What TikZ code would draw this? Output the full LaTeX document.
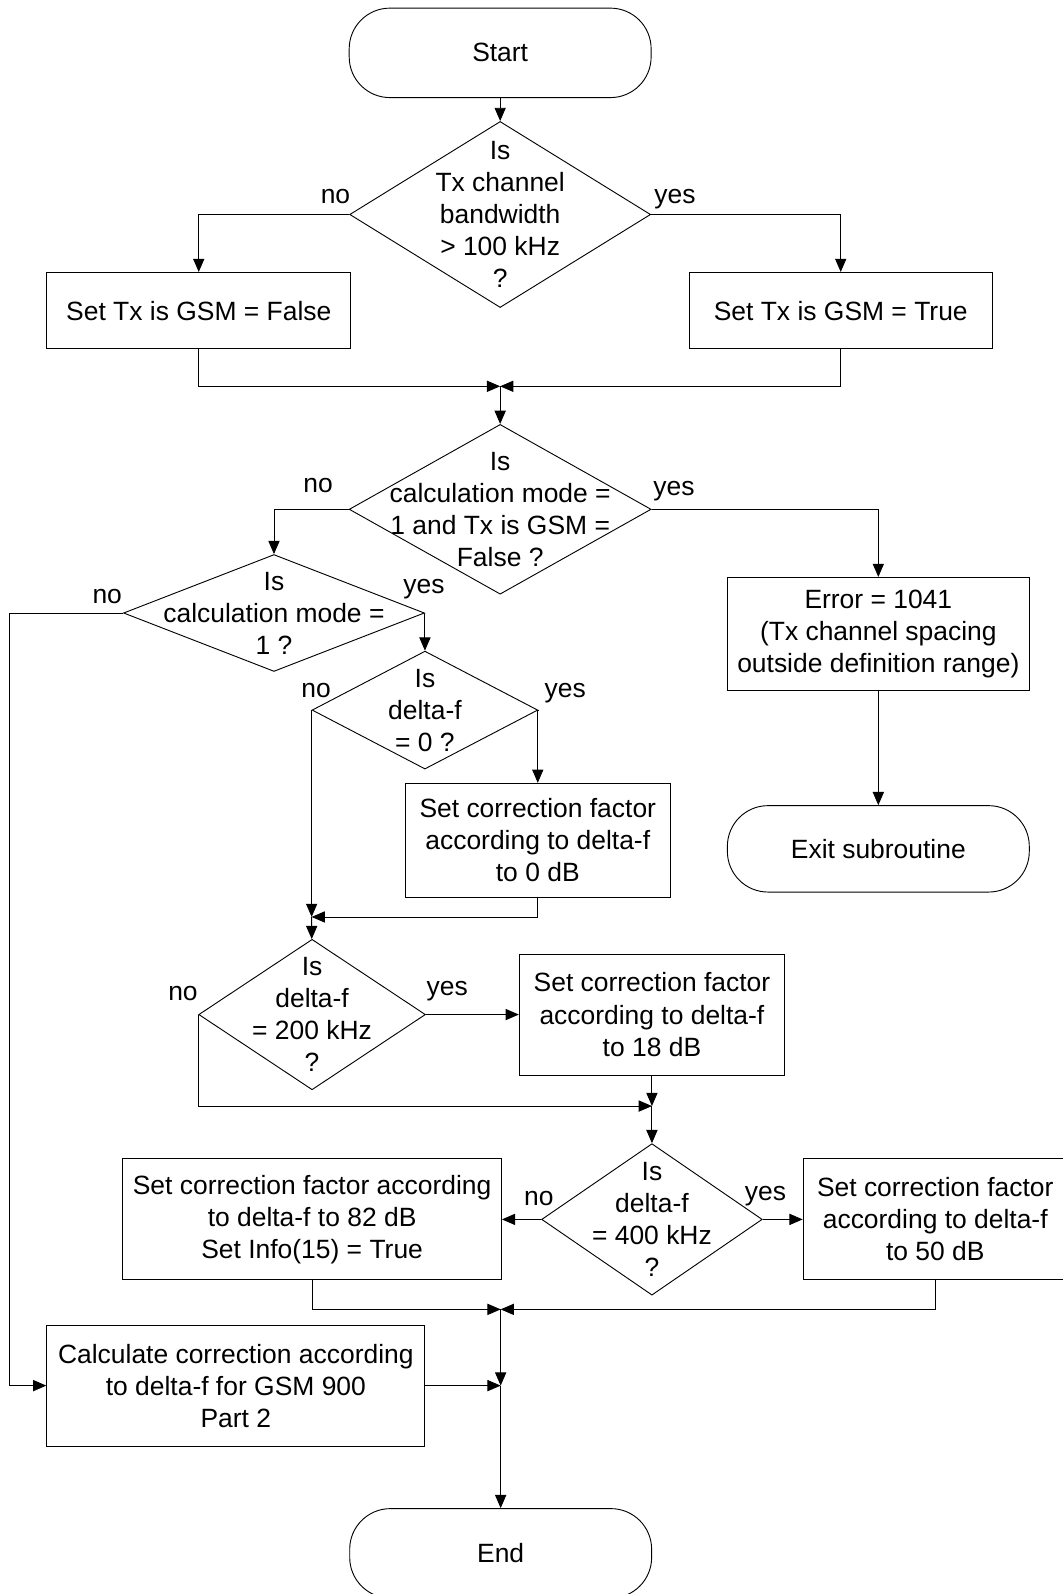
\documentclass[tikz,border=0pt]{standalone}
\usepackage{fontspec}
\setmainfont{Liberation Sans}
\usepackage{tikz}
\usetikzlibrary{arrows.meta, shapes.geometric}

\tikzset{
  terminal/.style={draw, rounded corners=40pt, minimum width=297pt, minimum height=88pt, inner sep=0pt},
  process/.style={draw, align=center, inner sep=0pt},
  decision/.style={draw, diamond, inner sep=0pt},
  question/.style={align=center, inner sep=0pt},
  answer/.style={anchor=base, inner sep=0pt},
  flow/.style={-{Triangle[length=13pt,width=11pt]}}
}

\begin{document}
\begin{tikzpicture}[x=1pt, y=-1pt, line width=0.9pt, font=\fontsize{26pt}{31.5pt}\selectfont]
  \useasboundingbox (0,0) rectangle (1045,1568);

  \node[terminal] (start) at (492,52) {Start};
  \node[decision, minimum width=296pt, minimum height=183pt] (d1) at (492,211) {};
  \node[question] (q1) at (d1) {Is\\Tx channel\\bandwidth\\> 100 kHz\\?};
  \node[process, minimum width=299pt, minimum height=75pt] (gsmno) at (195.5,305.5) {Set Tx is GSM = False};
  \node[process, minimum width=298pt, minimum height=75pt] (gsmyes) at (827,305.5) {Set Tx is GSM = True};

  \node[decision, minimum width=297pt, minimum height=167pt] (d2) at (492,501) {};
  \node[question] (q2) at (d2) {Is\\calculation mode =\\1 and Tx is GSM =\\False ?};
  \node[process, minimum width=297pt, minimum height=111pt] (err) at (864,623.5) {Error = 1041\\(Tx channel spacing\\outside definition range)};
  \node[terminal, minimum height=85pt] (exit) at (864,835) {Exit subroutine};

  \node[decision, minimum width=296pt, minimum height=115pt] (d3) at (269.5,603) {};
  \node[question] (q3) at (d3) {Is\\calculation mode =\\1 ?};
  \node[decision, minimum width=222pt, minimum height=116pt] (d4) at (418,698.5) {};
  \node[question] (q4) at (d4) {Is\\delta-f\\= 0 ?};
  \node[process, minimum width=261pt, minimum height=112pt] (f0) at (529,826.5) {Set correction factor\\according to delta-f\\to 0 dB};

  \node[decision, minimum width=223pt, minimum height=148pt] (d5) at (307,998) {};
  \node[question] (q5) at (d5) {Is\\delta-f\\= 200 kHz\\?};
  \node[process, minimum width=261pt, minimum height=119pt] (f18) at (641.3,998) {Set correction factor\\according to delta-f\\to 18 dB};

  \node[decision, minimum width=217pt, minimum height=149pt] (d6) at (641.3,1199.5) {};
  \node[question] (q6) at (d6) {Is\\delta-f\\= 400 kHz\\?};
  \node[process, minimum width=372.6pt, minimum height=119pt] (f82) at (307,1199.5) {Set correction factor according\\to delta-f to 82 dB\\Set Info(15) = True};
  \node[process, minimum width=260pt, minimum height=119pt] (f50) at (920,1199.5) {Set correction factor\\according to delta-f\\to 50 dB};

  \node[process, minimum width=372pt, minimum height=119pt] (gsm900) at (232,1363) {Calculate correction according\\to delta-f for GSM 900\\Part 2};
  \node[terminal] (end) at (492.5,1528) {End};

  \node[answer] (no1) at (330,200) {no};
  \node[answer] (yes1) at (664,200) {yes};
  \node[answer] (no2) at (313,484) {no};
  \node[answer] (yes2) at (663,487) {yes};
  \node[answer] (no3) at (105.5,594) {no};
  \node[answer] (yes3) at (417,584) {yes};
  \node[answer] (no4) at (311,686) {no};
  \node[answer] (yes4) at (556,686) {yes};
  \node[answer] (no5) at (180,984) {no};
  \node[answer] (yes5) at (440,979.5) {yes};
  \node[answer] (no6) at (530,1185.5) {no};
  \node[answer] (yes6) at (753,1181) {yes};

  \coordinate (m1) at (492,380);
  \coordinate (m2) at (d4.west |- 0,902);
  \coordinate (m3) at (641.3,1088);
  \coordinate (m4) at (492.5,1288);
  \coordinate (m5) at (492.5,1363);
  \coordinate (rail) at (9,0);

  \draw[flow] (start) -- (d1);
  \draw[flow] (d1.west) -| (gsmno.north);
  \draw[flow] (d1.east) -| (gsmyes.north);
  \draw[flow] (gsmno.south) |- (m1);
  \draw[flow] (gsmyes.south) |- (m1);
  \draw[flow] (m1) -- (d2);

  \draw[flow] (d2.west) -| (d3.north);
  \draw[flow] (d2.east) -| (err.north);
  \draw[flow] (err) -- (exit);

  \draw[flow] (d3.east) -| (d4.north);
  \draw[flow] (d3.west) -- (d3.west -| rail) |- (gsm900.west);
  \draw[flow] (d4.east) -| (f0.north);
  \draw[flow] (d4.west) -- (m2);
  \draw[flow] (f0.south) |- (m2);
  \draw[flow] (m2) -- (d5);

  \draw[flow] (d5.east) -- (f18.west);
  \draw[flow] (d5.west) |- (m3);
  \draw[flow] (f18.south) -- (m3);
  \draw[flow] (m3) -- (d6);

  \draw[flow] (d6.west) -- (f82.east);
  \draw[flow] (d6.east) -- (f50.west);
  \draw[flow] (f82.south) |- (m4);
  \draw[flow] (f50.south) |- (m4);
  \draw[flow] (m4) -- (m5);
  \draw[flow] (gsm900.east) -- (m5);
  \draw[flow] (m5) -- (end);
\end{tikzpicture}
\end{document}
